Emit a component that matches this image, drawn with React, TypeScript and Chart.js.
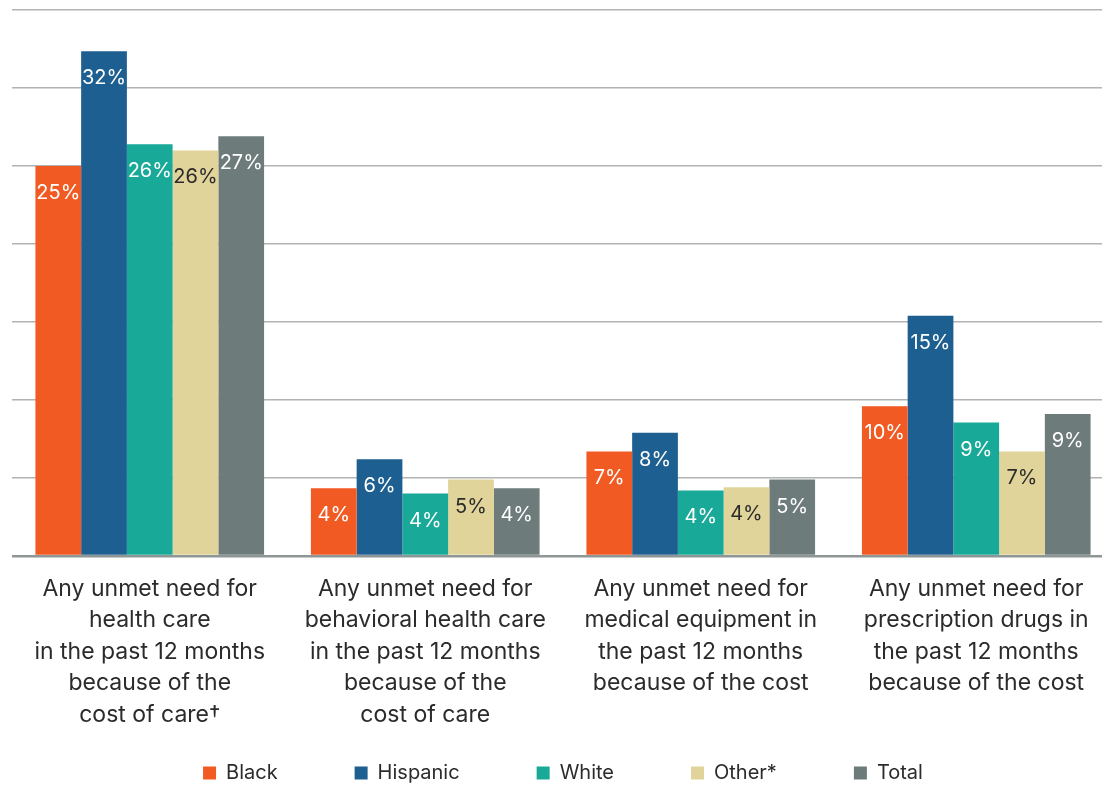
import React, { useEffect, useRef } from "react";
import { Chart, registerables } from "chart.js";

Chart.register(...registerables);

const categories: string[][] = [
  ["Any unmet need for", "health care", "in the past 12 months", "because of the", "cost of care†"],
  ["Any unmet need for", "behavioral health care", "in the past 12 months", "because of the", "cost of care"],
  ["Any unmet need for", "medical equipment in", "the past 12 months", "because of the cost"],
  ["Any unmet need for", "prescription drugs in", "the past 12 months", "because of the cost"],
];

const seriesNames = ["Black", "Hispanic", "White", "Other*", "Total"];
const black = [25.0, 4.35, 6.7, 9.6];
const hispanic = [32.35, 6.2, 7.9, 15.4];
const white = [26.4, 4.0, 4.2, 8.55];
const other = [26.0, 4.9, 4.4, 6.7];
const total = [26.9, 4.35, 4.9, 9.1];
const colors = ["#f15a22", "#1d5f91", "#19a998", "#e1d49b", "#6d7b7a"];
const labelColors = ["#ffffff", "#ffffff", "#ffffff", "#2b2b2b", "#ffffff"];

const yMax = 35;
const yStep = 5;

const FONT = "Inter, 'Noto Sans', sans-serif";
const LEGEND_PAD = 77;
const LEGEND_FONT = 20;
const LEGEND_CENTER_Y = 773;

const valueLabels = {
  id: "valueLabels",
  afterDatasetsDraw(chart: any) {
    const ctx = chart.ctx;
    ctx.save();
    ctx.font = `400 20px ${FONT}`;
    ctx.textAlign = "center";
    ctx.textBaseline = "middle";
    chart.data.datasets.forEach((ds: any, di: number) => {
      const meta = chart.getDatasetMeta(di);
      meta.data.forEach((bar: any, i: number) => {
        const v = ds.data[i];
        ctx.fillStyle = labelColors[di];
        ctx.fillText(`${Math.round(v)}%`, bar.x, bar.y + 27);
      });
    });
    ctx.restore();
  },
};

const legendShift = {
  id: "legendShift",
  afterLayout(chart: any) {
    const lg = chart.legend;
    if (!lg) return;
    const h = lg.height;
    lg.top = LEGEND_CENTER_Y - (LEGEND_PAD + LEGEND_FONT / 2);
    lg.bottom = lg.top + h;
  },
};

export default function App() {
  const ref = useRef<HTMLCanvasElement | null>(null);
  useEffect(() => {
    if (!ref.current) return;
    const data = [black, hispanic, white, other, total];
    const chart = new Chart(ref.current, {
      type: "bar",
      data: {
        labels: categories as any,
        datasets: seriesNames.map((name, i) => ({
          label: name,
          data: data[i],
          backgroundColor: colors[i],
          borderWidth: 0,
          barPercentage: 1,
          categoryPercentage: 0.83,
        })),
      },
      options: {
        animation: false,
        responsive: true,
        maintainAspectRatio: false,
        layout: { padding: { top: 10, left: 12, right: 0, bottom: -48 } },
        plugins: {
          tooltip: { enabled: false },
          legend: {
            position: "bottom",
            labels: {
              boxWidth: 13,
              boxHeight: 13,
              padding: LEGEND_PAD,
              color: "#2b2b2b",
              font: { family: FONT, size: LEGEND_FONT },
            },
          },
        },
        scales: {
          x: {
            grid: { display: false },
            border: { display: false },
            ticks: {
              color: "#2b2b2b",
              padding: 9.25,
              autoSkip: false,
              maxRotation: 0,
              font: { family: FONT, size: 23, lineHeight: "31.5px" as any },
            },
            afterFit: (scale: any) => {
              scale.height = 170;
            },
          },
          y: {
            min: 0,
            max: yMax,
            ticks: { display: false, stepSize: yStep },
            border: { display: false },
            grid: {
              drawTicks: false,
              color: (c: any) => (c.tick && c.tick.value === 0 ? "#8f9696" : "#b0b4b4"),
              lineWidth: (c: any) => (c.tick && c.tick.value === 0 ? 2.5 : 1.5),
            },
          },
        },
      },
      plugins: [valueLabels, legendShift],
    });
    return () => chart.destroy();
  }, []);
  return (
    <div style={{ position: "absolute", left: 0, top: 0, width: 1102, height: 785, overflow: "hidden", background: "#fff" }}>
      <div style={{ position: "relative", width: 1114, height: 785 }}>
        <canvas ref={ref} />
      </div>
    </div>
  );
}
